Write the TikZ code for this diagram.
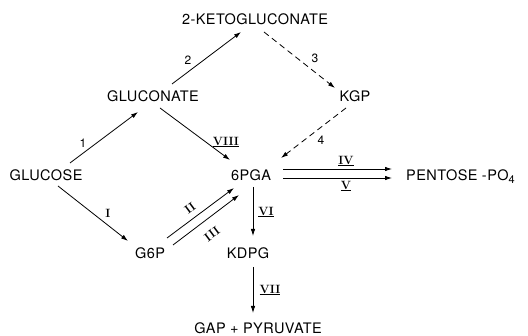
\documentclass[tikz,border=0pt]{standalone}
\usepackage{fontspec}
\newfontfamily\heros{TeX Gyre Heros}[LetterSpace=3]
\usetikzlibrary{arrows.meta,calc}
\newcommand\rnu[1]{\underline{#1}}
\begin{document}
\begin{tikzpicture}[x=1pt,y=-1pt,
  met/.style={inner sep=0pt, text height=10.5pt, text depth=0pt, font=\heros\fontsize{14.5}{14.5}\selectfont},
  num/.style={inner sep=0pt, font=\heros\fontsize{12}{12}\selectfont},
  rn/.style={inner sep=0pt, font=\fontsize{12}{12}\selectfont\bfseries},
  arr/.style={-{Latex[length=7pt,width=4.5pt]}, line width=0.8pt},
  darr/.style={arr, dash pattern=on 6pt off 4pt}]
\useasboundingbox (0,0) rectangle (528,336);
\fill[white] (0,0) rectangle (528,336);
% metabolites
\node[met] (keto) at (255,19) {2-KETOGLUCONATE};
\node[met] (gluconate) at (153,96) {GLUCONATE};
\node[met] (kgp) at (355,96) {KGP};
\node[met] (glucose) at (46,175) {GLUCOSE};
\node[met] (pga) at (251,175) {6PGA};
\node[met, anchor=west] (pentose) at (406,175) {PENTOSE -PO\raisebox{-3.5pt}{\fontsize{11}{11}\selectfont 4}};
\node[met] (g6p) at (150,253) {G6P};
\node[met] (kdpg) at (248,253) {KDPG};
\node[met] (gap) at (258,328) {GAP + PYRUVATE};
% arrows
\draw[arr] ([shift={(24,-12)}]glucose.center) -- ([shift={(-15,16)}]gluconate.center);
\draw[arr] ([shift={(19,-12)}]gluconate.center) -- ([shift={(-14,13)}]keto.center);
\draw[darr] ([shift={(9,13)}]keto.center) -- ([shift={(-20,-8)}]kgp.center);
\draw[darr] ([shift={(-9,12)}]kgp.center) -- ([shift={(30,-17)}]pga.center);
\draw[arr] ([shift={(7,12)}]gluconate.center) -- ([shift={(-21,-15)}]pga.center);
\draw[arr] ([shift={(12,11)}]glucose.center) -- ([shift={(-22,-12)}]g6p.center);
\draw[arr] ([shift={(17,-15)}]g6p.center) -- ([shift={(-17,13)}]pga.center);
\draw[arr] ([shift={(23,-8)}]g6p.center) -- ([shift={(-12,20)}]pga.center);
\draw[arr] ([shift={(2,12)}]pga.center) -- ([shift={(5,-17)}]kdpg.center);
\draw[arr] ([shift={(5,14)}]kdpg.center) -- ([shift={(-5,-15)}]gap.center);
\draw[arr] ([shift={(32,-6)}]pga.center) -- ([shift={(-14,-6)}]pentose.west);
\draw[arr] ([shift={(32,3)}]pga.center) -- ([shift={(-14,3)}]pentose.west);
% labels
\node[num] (l1) at (83,143) {1};
\node[num] (l2) at (188,60) {2};
\node[num] (l3) at (315,58) {3};
\node[num] (l4) at (321,140) {4};
\node[rn] (lI) at (108,213) {I};
\node[rn, rotate=37] (lII) at (190,208) {II};
\node[rn, rotate=37] (lIII) at (212,234) {III};
\node[rn] (lIV) at (346,161) {\rnu{IV}};
\node[rn] (lV) at (346,186) {\rnu{V}};
\node[rn] (lVI) at (266,212) {\rnu{VI}};
\node[rn] (lVII) at (270,290) {\rnu{VII}};
\node[rn] (lVIII) at (226,142) {\rnu{VIII}};
\end{tikzpicture}
\end{document}
